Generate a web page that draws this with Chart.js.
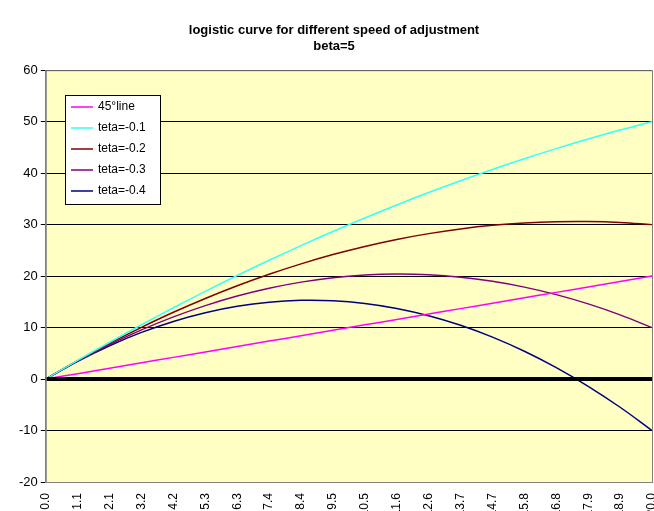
<!DOCTYPE html>
<html lang="en">
<head>
<meta charset="UTF-8">
<title>logistic curve</title>
<script src="https://cdn.jsdelivr.net/npm/chart.js@4"></script>
<style>
  * { margin: 0; padding: 0; }
  body { background: #fff; width: 654px; height: 511px; overflow: hidden; }
  #wrap { position: relative; width: 654px; height: 511px; }
</style>
</head>
<body>
<div id="wrap"><canvas id="c"></canvas></div>
<script>
const xLabels = ['0.0','1.1','2.1','3.2','4.2','5.3','6.3','7.4','8.4','9.5','10.5','11.6','12.6','13.7','14.7','15.8','16.8','17.9','18.9','20.0'];
const line45 = [0,1.05,2.11,3.16,4.21,5.26,6.32,7.37,8.42,9.47,10.53,11.58,12.63,13.68,14.74,15.79,16.84,17.89,18.95,20];
const teta1 = [0,3.63,7.15,10.55,13.85,17.04,20.12,23.08,25.93,28.67,31.30,33.82,36.23,38.53,40.72,42.80,44.77,46.62,48.37,50];
const teta2 = [0,3.57,6.93,10.05,12.97,15.65,18.12,20.36,22.38,24.18,25.76,27.12,28.25,29.16,29.86,30.33,30.58,30.61,30.42,30];
const teta3 = [0,3.52,6.70,9.55,12.08,14.27,16.13,17.64,18.83,19.70,20.22,20.42,20.28,19.80,18.98,17.86,16.40,14.60,12.47,10];
const teta4 = [0,3.46,6.48,9.06,11.19,12.88,14.13,14.93,15.29,15.21,14.68,13.71,12.30,10.44,8.14,5.40,2.22,-1.41,-5.48,-10];
const zeroLine = xLabels.map(() => 0);

const ds = (label, data, color, w) => ({ label, data, borderColor: color, borderWidth: w || 1.5, pointRadius: 0, tension: 0.4, fill: false });

const bgPlugin = {
  id: 'bg',
  beforeDraw(chart) {
    const { ctx, chartArea: a } = chart;
    ctx.save();
    ctx.fillStyle = '#ffffc4';
    ctx.fillRect(a.left, a.top, a.right - a.left, a.bottom - a.top);
    ctx.restore();
  },
  afterDraw(chart) {
    const { ctx, chartArea: a } = chart;
    ctx.save();
    ctx.strokeStyle = '#808080';
    ctx.lineWidth = 1;
    ctx.strokeRect(a.left + 0.5, a.top + 0.5, a.right - a.left, a.bottom - a.top);
    // legend box
    const items = chart.data.datasets.filter(d => !d.hideLegend);
    const x0 = 65, y0 = 95, w = 95, rowH = 21;
    ctx.fillStyle = '#fff';
    ctx.fillRect(x0, y0, w, items.length * rowH + 4);
    ctx.strokeStyle = '#000';
    ctx.strokeRect(x0 + 0.5, y0 + 0.5, w, items.length * rowH + 4);
    ctx.font = '12px Arial, "Liberation Sans", sans-serif';
    ctx.textBaseline = 'middle';
    items.forEach((d, i) => {
      const y = y0 + 12 + i * rowH;
      ctx.strokeStyle = d.borderColor;
      ctx.lineWidth = 1.5;
      ctx.beginPath(); ctx.moveTo(x0 + 6, y); ctx.lineTo(x0 + 28, y); ctx.stroke();
      ctx.fillStyle = '#000';
      ctx.fillText(d.label, x0 + 33, y);
    });
    ctx.restore();
  }
};

new Chart(document.getElementById('c'), {
  type: 'line',
  data: {
    labels: xLabels,
    datasets: [
      Object.assign(ds('zero', zeroLine, '#000', 4), { hideLegend: true, tension: 0 }),
      ds('45°line', line45, '#ff00ff'),
      ds('teta=-0.1', teta1, '#33ffff'),
      ds('teta=-0.2', teta2, '#800000'),
      ds('teta=-0.3', teta3, '#800080'),
      ds('teta=-0.4', teta4, '#000080')
    ]
  },
  options: {
    responsive: true,
    maintainAspectRatio: false,
    animation: false,
    layout: { padding: { left: 16, right: 2, top: 0, bottom: 0 } },
    plugins: {
      legend: { display: false },
      tooltip: { enabled: false },
      title: {
        display: true,
        text: ['logistic curve for different speed of adjustment', 'beta=5'],
        color: '#000',
        font: { family: 'Arial, "Liberation Sans", sans-serif', size: 13, weight: 'bold' },
        padding: { top: 23, bottom: 16 },
        lineHeight: 1.3
      }
    },
    scales: {
      x: {
        offset: false,
        grid: { display: false },
        border: { color: '#808080' },
        afterFit: s => { s.height = 29; s.paddingRight = 0; },
        ticks: { color: '#000', maxRotation: 90, minRotation: 90, autoSkip: false, font: { family: 'Arial, "Liberation Sans", sans-serif', size: 12 } }
      },
      y: {
        min: -20, max: 60,
        ticks: { stepSize: 10, color: '#000', font: { family: 'Arial, "Liberation Sans", sans-serif', size: 13 } },
        grid: { color: '#000', drawTicks: true, tickLength: 5 },
        border: { color: '#808080' }
      }
    }
  },
  plugins: [bgPlugin]
});
</script>
</body>
</html>
